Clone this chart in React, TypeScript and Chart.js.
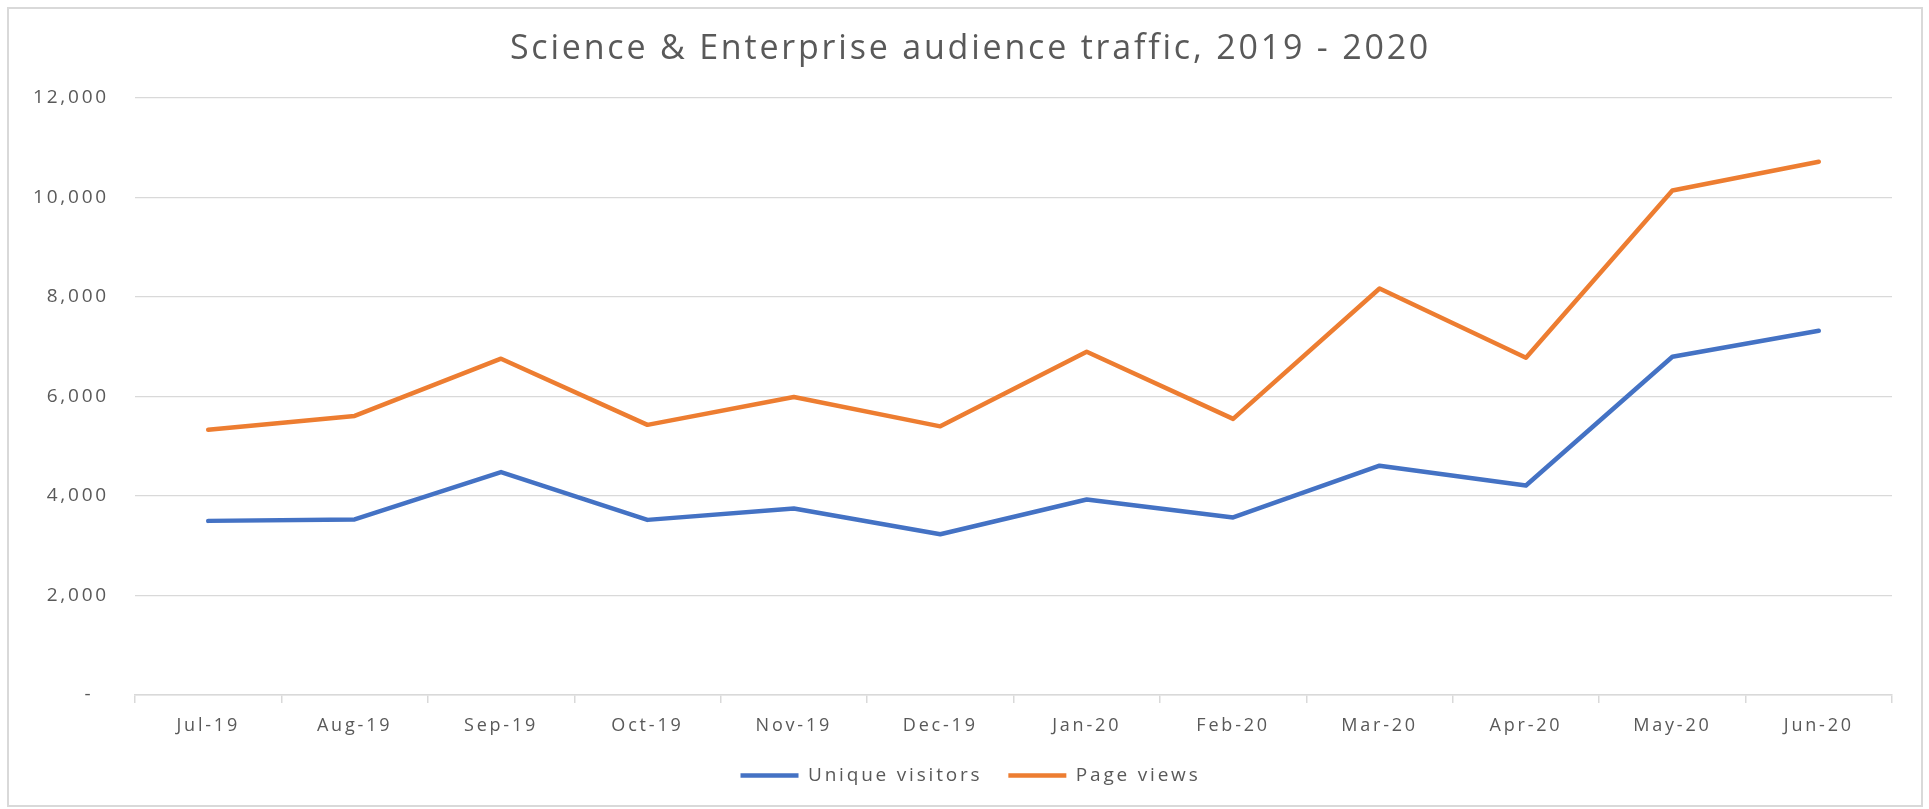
import React, { useEffect, useRef } from "react";
import { Chart, registerables } from "chart.js";

Chart.register(...registerables);

const months = ["Jul-19", "Aug-19", "Sep-19", "Oct-19", "Nov-19", "Dec-19", "Jan-20", "Feb-20", "Mar-20", "Apr-20", "May-20", "Jun-20"];
const uniqueVisitors = [3500, 3530, 4480, 3520, 3750, 3230, 3930, 3570, 4610, 4210, 6800, 7320];
const pageViews = [5330, 5610, 6760, 5430, 5990, 5400, 6900, 5550, 8170, 6780, 10140, 10720];
const seriesNames = ["Unique visitors", "Page views"];
const titleText = "Science & Enterprise audience traffic, 2019 - 2020";
const yMin = 0;
const yMax = 12000;
const yStep = 2000;

const TEXT = "#595959";
const GRID = "#D9D9D9";
const FONT = "'Open Sans', 'DejaVu Sans', sans-serif";
const SPACING = "2.8px";
const HEADER_SHIFT = 20;

const spacingPlugin = {
  id: "letterSpacing",
  beforeUpdate(chart: any) {
    chart.ctx.letterSpacing = SPACING;
  },
  beforeLayout(chart: any) {
    chart.ctx.letterSpacing = SPACING;
  },
  beforeDraw(chart: any) {
    chart.ctx.letterSpacing = SPACING;
  },
};

function shiftBox(box: any, dx: number) {
  if (!box || box.__shifted) return;
  const orig = box.draw.bind(box);
  box.draw = (area: any) => {
    const ctx = box.ctx;
    ctx.save();
    ctx.translate(dx, 0);
    orig(area);
    ctx.restore();
  };
  box.__shifted = true;
}

export default function App() {
  const ref = useRef<HTMLCanvasElement | null>(null);

  useEffect(() => {
    if (!ref.current) return;
    const chart: any = new Chart(ref.current, {
      type: "line",
      data: {
        labels: months,
        datasets: [
          {
            label: seriesNames[0],
            data: uniqueVisitors,
            borderColor: "#4472C4",
            backgroundColor: "#4472C4",
            borderWidth: 4.5,
            borderCapStyle: "round",
            borderJoinStyle: "round",
            pointRadius: 0,
            tension: 0,
          },
          {
            label: seriesNames[1],
            data: pageViews,
            borderColor: "#ED7D31",
            backgroundColor: "#ED7D31",
            borderWidth: 4.5,
            borderCapStyle: "round",
            borderJoinStyle: "round",
            pointRadius: 0,
            tension: 0,
          },
        ],
      },
      plugins: [spacingPlugin],
      options: {
        responsive: false,
        animation: false,
        layout: { padding: { left: 0, right: 29, top: 0, bottom: 10 } },
        plugins: {
          title: {
            display: true,
            text: titleText,
            color: TEXT,
            font: { family: FONT, size: 34, weight: "normal", lineHeight: 1.2 },
            padding: { top: 19.6, bottom: 28.6 },
          },
          legend: {
            display: true,
            position: "bottom",
            labels: {
              usePointStyle: true,
              pointStyle: "line",
              pointStyleWidth: 58,
              color: TEXT,
              font: { family: FONT, size: 19 },
              padding: 26,
            },
          },
          tooltip: { enabled: false },
        },
        scales: {
          x: {
            type: "category",
            offset: true,
            grid: {
              offset: true,
              drawOnChartArea: false,
              drawTicks: true,
              tickLength: 8,
              color: GRID,
              lineWidth: 1.5,
            },
            border: { display: true, color: GRID, width: 1.5 },
            ticks: {
              color: TEXT,
              font: { family: FONT, size: 18 },
              padding: 12,
              maxRotation: 0,
              autoSkip: false,
            },
            afterFit(scale: any) {
              scale.height = 45;
            },
          },
          y: {
            min: yMin,
            max: yMax,
            grid: { color: GRID, lineWidth: 1.3, drawTicks: false },
            border: { display: false },
            ticks: {
              stepSize: yStep,
              color: TEXT,
              font: { family: FONT, size: 19 },
              padding: 26,
              callback: (v: any) => (Number(v) === 0 ? "-  " : Number(v).toLocaleString("en-US")),
            },
            afterFit(scale: any) {
              scale.width = 126;
            },
          },
        },
      },
    });
    shiftBox(chart.titleBlock, HEADER_SHIFT);
    shiftBox(chart.legend, HEADER_SHIFT);
    chart.draw();
    return () => chart.destroy();
  }, []);

  return (
    <div
      style={{
        position: "fixed",
        left: 7,
        top: 7,
        width: 1916,
        height: 800,
        boxSizing: "border-box",
        border: "2px solid #D9D9D9",
        background: "#fff",
      }}
    >
      <canvas ref={ref} width={1912} height={796} style={{ display: "block" }} />
    </div>
  );
}
